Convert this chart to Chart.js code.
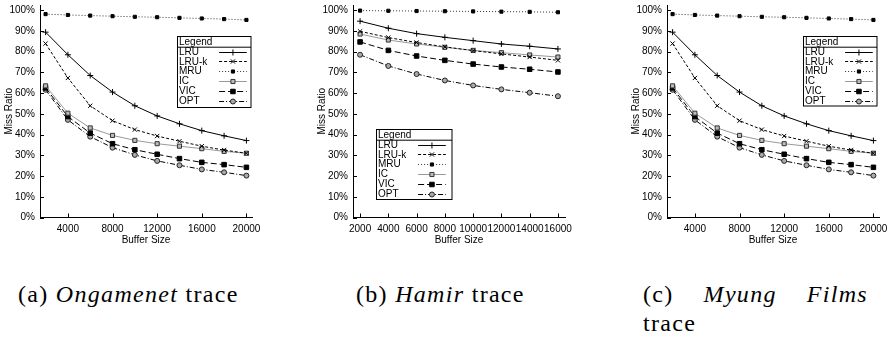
<!DOCTYPE html>
<html><head><meta charset="utf-8">
<script src="https://cdn.jsdelivr.net/npm/chart.js@4.4.1/dist/chart.umd.min.js"></script>
<style>
html,body{margin:0;padding:0;background:#fff;width:891px;height:338px;overflow:hidden;position:relative;}
canvas{position:absolute;top:0;}
.cap{position:absolute;font-family:"Liberation Serif",serif;font-size:24px;line-height:29px;color:#000;white-space:nowrap;letter-spacing:1.3px;}
.cap i{font-style:italic;}
</style></head><body>
<canvas id="cA" width="262" height="250" style="left:0px"></canvas>
<canvas id="cB" width="262" height="250" style="left:313px"></canvas>
<canvas id="cC" width="262" height="250" style="left:627px"></canvas>
<div class="cap" style="left:18px;top:280px">(a) <i>Ongamenet</i> trace</div>
<div class="cap" style="left:356px;top:280px">(b) <i>Hamir</i> trace</div>
<div class="cap" style="left:643px;top:280px;width:225px">
  <div style="display:flex;justify-content:space-between"><span>(c)</span><i>Myung</i><i>Films</i></div>
  <div>trace</div>
</div>
<script>
// ---------------- data ----------------
const seriesLabels = ['LRU', 'LRU-k', 'MRU', 'IC', 'VIC', 'OPT'];
const yTickValues = [0, 10, 20, 30, 40, 50, 60, 70, 80, 90, 100];

// (a) Ongamenet trace
const bufferSizesA = [2000, 4000, 6000, 8000, 10000, 12000, 14000, 16000, 18000, 20000];
const xTickLabelsA = [4000, 8000, 12000, 16000, 20000];
const lruA  = [89.4, 78.5, 68.5, 60.5, 53.9, 49.0, 45.2, 41.9, 39.4, 37.1];
const lrukA = [83.9, 67.3, 53.9, 46.7, 42.4, 39.3, 36.8, 34.4, 32.5, 31.0];
const mruA  = [98.1, 97.7, 97.4, 97.1, 96.8, 96.6, 96.3, 96.0, 95.7, 95.3];
const icA   = [63.5, 50.3, 43.2, 39.6, 37.2, 35.6, 34.4, 33.2, 31.9, 31.0];
const vicA  = [62.5, 48.7, 40.7, 35.6, 32.7, 30.5, 28.4, 26.6, 25.5, 24.2];
const optA  = [61.6, 47.1, 39.0, 33.7, 30.2, 27.3, 25.2, 23.2, 21.8, 20.2];

// (b) Hamir trace
const bufferSizesB = [2000, 4000, 6000, 8000, 10000, 12000, 14000, 16000];
const xTickLabelsB = [2000, 4000, 6000, 8000, 10000, 12000, 14000, 16000];
const lruB  = [94.7, 91.3, 88.7, 86.9, 85.3, 83.7, 82.6, 81.3];
const lrukB = [89.8, 86.8, 84.4, 82.3, 80.5, 78.9, 77.4, 75.8];
const mruB  = [99.8, 99.7, 99.6, 99.5, 99.4, 99.3, 99.2, 99.0];
const icB   = [88.5, 85.6, 83.7, 82.1, 80.6, 79.5, 78.4, 77.4];
const vicB  = [84.7, 80.6, 77.9, 75.8, 74.0, 72.6, 71.5, 70.2];
const optB  = [78.5, 73.1, 69.2, 66.1, 63.7, 61.8, 60.2, 58.5];

// (c) Myung Films trace
const bufferSizesC = [2000, 4000, 6000, 8000, 10000, 12000, 14000, 16000, 18000, 20000];
const xTickLabelsC = [4000, 8000, 12000, 16000, 20000];
const lruC  = [89.4, 78.5, 68.5, 60.5, 53.9, 49.0, 45.2, 41.9, 39.4, 37.1];
const lrukC = [83.9, 67.3, 53.9, 46.7, 42.4, 39.3, 36.8, 34.4, 32.5, 31.0];
const mruC  = [98.1, 97.7, 97.4, 97.1, 96.8, 96.6, 96.3, 96.0, 95.7, 95.3];
const icC   = [63.5, 50.3, 43.2, 39.6, 37.2, 35.6, 34.4, 33.2, 31.9, 31.0];
const vicC  = [62.5, 48.7, 40.7, 35.6, 32.7, 30.5, 28.4, 26.6, 25.5, 24.2];
const optC  = [61.6, 47.1, 39.0, 33.7, 30.2, 27.3, 25.2, 23.2, 21.8, 20.2];

// ---------------- styles ----------------
const seriesStyles = {
  'LRU':   {borderColor:'#000', borderDash:[],          pointStyle:'cross',    pointRadius:3,   pointBorderColor:'#000', pointBackgroundColor:'#000'},
  'LRU-k': {borderColor:'#000', borderDash:[3,2],       pointStyle:'crossRot', pointRadius:3,   pointBorderColor:'#000', pointBackgroundColor:'#000'},
  'MRU':   {borderColor:'#333', borderDash:[1,2],       pointStyle:'rect',     pointRadius:2.2, pointBorderColor:'#000', pointBackgroundColor:'#000'},
  'IC':    {borderColor:'#999', borderDash:[],          pointStyle:'rect',     pointRadius:2.9, pointBorderColor:'#333', pointBackgroundColor:'#bbb'},
  'VIC':   {borderColor:'#000', borderDash:[6,3],       pointStyle:'rect',     pointRadius:3.2, pointBorderColor:'#000', pointBackgroundColor:'#000'},
  'OPT':   {borderColor:'#000', borderDash:[5,2,1,2],   pointStyle:'circle',   pointRadius:2.5, pointBorderColor:'#222', pointBackgroundColor:'#aaa'}
};
const FONT = {family:'"Liberation Sans", Arial, sans-serif', size:10};

function drawMarker(ctx, st, x, y) {
  const r = st.pointRadius;
  ctx.save();
  ctx.setLineDash([]);
  ctx.lineWidth = 1;
  ctx.strokeStyle = st.pointBorderColor;
  ctx.fillStyle = st.pointBackgroundColor;
  ctx.beginPath();
  if (st.pointStyle === 'cross') {
    ctx.moveTo(x - r, y); ctx.lineTo(x + r, y); ctx.moveTo(x, y - r); ctx.lineTo(x, y + r); ctx.stroke();
  } else if (st.pointStyle === 'crossRot') {
    const d = r * Math.SQRT1_2;
    ctx.moveTo(x - d, y - d); ctx.lineTo(x + d, y + d); ctx.moveTo(x - d, y + d); ctx.lineTo(x + d, y - d); ctx.stroke();
  } else if (st.pointStyle === 'rect') {
    const s = r * Math.SQRT1_2;
    ctx.rect(x - s, y - s, 2 * s, 2 * s); ctx.fill(); ctx.stroke();
  } else {
    ctx.arc(x, y, r, 0, Math.PI * 2); ctx.fill(); ctx.stroke();
  }
  ctx.restore();
}

const inwardTicks = {
  id: 'inwardTicks',
  afterDraw(chart) {
    const {ctx, chartArea: a, scales: {x, y}} = chart;
    ctx.save();
    ctx.strokeStyle = '#000'; ctx.lineWidth = 1; ctx.beginPath();
    y.ticks.forEach(t => { const p = Math.round(y.getPixelForValue(t.value)) + 0.5; ctx.moveTo(a.left, p); ctx.lineTo(a.left + 4, p); });
    x.ticks.forEach(t => { const p = Math.round(x.getPixelForValue(t.value)) + 0.5; ctx.moveTo(p, a.bottom); ctx.lineTo(p, a.bottom - 4); });
    ctx.stroke(); ctx.restore();
  }
};

const boxLegend = {
  id: 'boxLegend',
  afterDatasetsDraw(chart, args, opts) {
    const {ctx, chartArea: a} = chart;
    const bx = Math.round(a.left + opts.dx) + 0.5, by = Math.round(a.top + opts.dy) + 0.5;
    const w = opts.w, h = opts.h, th = opts.titleH, rh = opts.rowH;
    ctx.save();
    ctx.fillStyle = '#fff'; ctx.fillRect(bx, by, w, h);
    ctx.strokeStyle = '#000'; ctx.lineWidth = 1; ctx.setLineDash([]);
    ctx.strokeRect(bx, by, w, h);
    ctx.beginPath(); ctx.moveTo(bx, by + th); ctx.lineTo(bx + w, by + th); ctx.stroke();
    ctx.font = '10px "Liberation Sans", Arial, sans-serif';
    ctx.fillStyle = '#000'; ctx.textAlign = 'left'; ctx.textBaseline = 'middle';
    ctx.fillText('Legend', bx + 1.5, by + th / 2 + 0.5);
    chart.data.datasets.forEach((ds, i) => {
      const cy = by + th + opts.rowStart + i * rh;
      ctx.fillStyle = '#000';
      ctx.fillText(ds.label, bx + 1.5, cy + 0.5);
      const st = seriesStyles[ds.label];
      ctx.save();
      ctx.strokeStyle = st.borderColor; ctx.lineWidth = 1; ctx.setLineDash(st.borderDash);
      ctx.beginPath(); ctx.moveTo(bx + opts.lineX0, Math.round(cy) + 0.5); ctx.lineTo(bx + opts.lineX1, Math.round(cy) + 0.5); ctx.stroke();
      ctx.restore();
      drawMarker(ctx, st, bx + (opts.lineX0 + opts.lineX1) / 2, Math.round(cy) + 0.5);
    });
    ctx.restore();
  }
};

function makeChart(id, xs, seriesData, xTicks, xMin, xMax, legendPos) {
  const datasets = seriesLabels.map((lab, i) => {
    const st = seriesStyles[lab];
    return Object.assign({
      label: lab,
      data: xs.map((x, k) => ({x: x, y: seriesData[i][k]})),
      borderWidth: 1, pointBorderWidth: 1, tension: 0, fill: false
    }, st);
  });
  return new Chart(document.getElementById(id), {
    type: 'line',
    data: {datasets},
    options: {
      responsive: false, animation: false, devicePixelRatio: 1,
      layout: {padding: {top: 5, right: 10, left: 0, bottom: 0}},
      plugins: {legend: {display: false}, tooltip: {enabled: false},
        boxLegend: Object.assign({w: 73.5, h: 71, titleH: 10.7, rowH: 9.85, rowStart: 4.3, lineX0: 41.6, lineX1: 69.3}, legendPos)},
      scales: {
        x: {
          type: 'linear', min: xMin, max: xMax,
          afterBuildTicks: s => { s.ticks = xTicks.map(v => ({value: v})); },
          afterFit: s => { s.height = 32.5; s.paddingLeft = 0; s.paddingRight = 0; },
          grid: {display: true, drawOnChartArea: false, drawTicks: false},
          border: {display: true, color: '#000', width: 1},
          ticks: {autoSkip: false, maxRotation: 0, minRotation: 0, padding: 6, color: '#000', font: FONT, callback: v => String(v)},
          title: {display: true, text: 'Buffer Size', color: '#000', font: FONT, padding: {top: 0, bottom: 3.5}}
        },
        y: {
          type: 'linear', min: 0, max: 102.5,
          afterBuildTicks: s => { s.ticks = yTickValues.map(v => ({value: v})); },
          afterFit: s => { s.width = 40; s.paddingTop = 0; s.paddingBottom = 0; },
          grid: {display: true, drawOnChartArea: false, drawTicks: false},
          border: {display: true, color: '#000', width: 1},
          ticks: {padding: 5, color: '#000', font: FONT, callback: v => v + '%'},
          title: {display: true, text: 'Miss Ratio', color: '#000', font: FONT, padding: {top: 3, bottom: 0}}
        }
      }
    },
    plugins: [inwardTicks, boxLegend]
  });
}

makeChart('cA', bufferSizesA, [lruA, lrukA, mruA, icA, vicA, optA], xTickLabelsA, 1500, 20500, {dx: 136.7, dy: 31});
makeChart('cB', bufferSizesB, [lruB, lrukB, mruB, icB, vicB, optB], xTickLabelsB, 1500, 16500, {dx: 22.7, dy: 124, h: 70, w: 75.5});
makeChart('cC', bufferSizesC, [lruC, lrukC, mruC, icC, vicC, optC], xTickLabelsC, 1500, 20500, {dx: 136.3, dy: 31, h: 69.5});
</script>
</body></html>
